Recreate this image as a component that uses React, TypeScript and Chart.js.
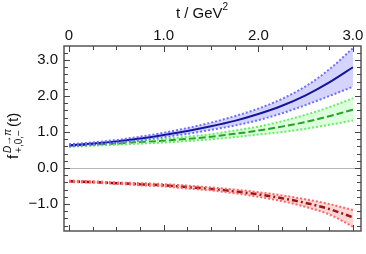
import React, { useEffect, useRef } from "react";
import { Chart, registerables } from "chart.js";

Chart.register(...registerables);

const tValues = [0, 0.25, 0.5, 0.75, 1.0, 1.25, 1.5, 1.75, 2.0, 2.25, 2.5, 2.75, 3.0];

const fPlus = [0.63, 0.68, 0.74, 0.82, 0.92, 1.03, 1.16, 1.31, 1.5, 1.73, 2.02, 2.38, 2.8];
const fPlusUpper = [0.66, 0.71, 0.78, 0.87, 0.98, 1.11, 1.26, 1.44, 1.65, 1.92, 2.27, 2.74, 3.33];
const fPlusLower = [0.6, 0.65, 0.7, 0.77, 0.86, 0.95, 1.06, 1.18, 1.33, 1.52, 1.75, 2.0, 2.26];

const fZero = [0.62, 0.65, 0.68, 0.72, 0.76, 0.81, 0.87, 0.95, 1.04, 1.15, 1.28, 1.44, 1.62];
const fZeroUpper = [0.65, 0.68, 0.71, 0.76, 0.81, 0.87, 0.94, 1.04, 1.15, 1.3, 1.48, 1.69, 1.94];
const fZeroLower = [0.59, 0.62, 0.65, 0.68, 0.71, 0.75, 0.8, 0.86, 0.93, 1.0, 1.09, 1.2, 1.32];

const fMinus = [-0.37, -0.39, -0.42, -0.45, -0.48, -0.53, -0.58, -0.65, -0.73, -0.84, -0.97, -1.14, -1.37];
const fMinusUpper = [-0.35, -0.37, -0.4, -0.42, -0.45, -0.49, -0.54, -0.6, -0.67, -0.76, -0.87, -1.0, -1.17];
const fMinusLower = [-0.39, -0.41, -0.44, -0.48, -0.51, -0.57, -0.62, -0.7, -0.8, -0.92, -1.08, -1.29, -1.63];

const xTickValues = [0, 1, 2, 3];
const xTickLabels = ["0", "1.0", "2.0", "3.0"];
const yTickValues = [-1, 0, 1, 2, 3];
const yTickLabels = ["\u22121.0", "0.0", "1.0", "2.0", "3.0"];

const FONT = "'Liberation Sans', Arial, sans-serif";

function pts(vals: number[]) {
  return tValues.map((t, i) => ({ x: t, y: vals[i] }));
}

const framePlugin = {
  id: "frame",
  beforeDatasetsDraw(chart: any) {
    const { ctx, chartArea, scales } = chart;
    const y0 = scales.y.getPixelForValue(0);
    ctx.save();
    ctx.strokeStyle = "#b8b8b8";
    ctx.lineWidth = 1;
    ctx.beginPath();
    ctx.moveTo(chartArea.left, Math.round(y0) + 0.5);
    ctx.lineTo(chartArea.right, Math.round(y0) + 0.5);
    ctx.stroke();
    ctx.restore();
  },
  afterDraw(chart: any) {
    const { ctx, chartArea, scales } = chart;
    const { left, right, top, bottom } = chartArea;
    ctx.save();
    ctx.strokeStyle = "#555";
    ctx.lineWidth = 1.5;
    ctx.strokeRect(left, top, right - left, bottom - top);
    ctx.lineWidth = 1;
    ctx.strokeStyle = "#444";
    for (let v = 0; v <= 3.0001; v += 0.25) {
      const px = Math.round(scales.x.getPixelForValue(v)) + 0.5;
      const major = Math.abs(v - Math.round(v)) < 1e-6;
      const len = major ? 6 : 4;
      ctx.beginPath();
      ctx.moveTo(px, top);
      ctx.lineTo(px, top + len);
      ctx.moveTo(px, bottom);
      ctx.lineTo(px, bottom - len);
      ctx.stroke();
    }
    for (let i = -8; i <= 16; i++) {
      const v = i * 0.2;
      const py = Math.round(scales.y.getPixelForValue(v)) + 0.5;
      if (py < top || py > bottom) continue;
      const major = i % 5 === 0;
      const len = major ? 6 : 4;
      ctx.beginPath();
      ctx.moveTo(left, py);
      ctx.lineTo(left + len, py);
      ctx.moveTo(right, py);
      ctx.lineTo(right - len, py);
      ctx.stroke();
    }
    ctx.fillStyle = "#111";
    ctx.font = `15px ${FONT}`;
    ctx.textBaseline = "alphabetic";
    const main = "t / GeV";
    const w1 = ctx.measureText(main).width;
    ctx.font = `10px ${FONT}`;
    const w2 = ctx.measureText("2").width;
    const startX = 202 - (w1 + w2) / 2;
    ctx.font = `15px ${FONT}`;
    ctx.fillText(main, startX, 18);
    ctx.font = `10px ${FONT}`;
    ctx.fillText("2", startX + w1, 10);
    ctx.translate(18, 136);
    ctx.rotate(-Math.PI / 2);
    ctx.font = `15px ${FONT}`;
    const fW = ctx.measureText("f").width;
    ctx.font = `italic 10px ${FONT}`;
    const supW = ctx.measureText("D\u2192\u03c0").width;
    ctx.font = `10px ${FONT}`;
    const subW = ctx.measureText("+,0,\u2212").width;
    ctx.font = `15px ${FONT}`;
    const tW = ctx.measureText("(t)").width;
    const total = fW + 2 + Math.max(supW, subW) + 2 + tW;
    let x = -total / 2;
    ctx.fillText("f", x, 0);
    x += fW + 2;
    ctx.font = `italic 10px ${FONT}`;
    ctx.fillText("D\u2192\u03c0", x, -7);
    ctx.font = `10px ${FONT}`;
    ctx.fillText("+,0,\u2212", x, 4);
    x += Math.max(supW, subW) + 2;
    ctx.font = `15px ${FONT}`;
    ctx.fillText("(t)", x, 0);
    ctx.restore();
  },
};

export default function App() {
  const ref = useRef<HTMLCanvasElement | null>(null);
  useEffect(() => {
    document.body.style.margin = "0";
    const canvas = ref.current!;
    const line = (data: number[], color: string, width: number, dash: number[], fill: any, bg: string) => ({
      data: pts(data),
      borderColor: color,
      borderWidth: width,
      borderDash: dash,
      backgroundColor: bg,
      fill,
      pointRadius: 0,
      cubicInterpolationMode: "monotone" as const,
    });
    const chart = new Chart(canvas, {
      type: "line",
      data: {
        datasets: [
          line(fPlusLower, "#6f6fff", 2, [2, 2], false, "transparent"),
          line(fPlusUpper, "#6f6fff", 2, [2, 2], "-1", "rgba(60,60,255,0.22)"),
          line(fPlus, "#0a0a80", 2, [], false, "transparent"),
          line(fZeroLower, "#66ee66", 2, [2, 2], false, "transparent"),
          line(fZeroUpper, "#66ee66", 2, [2, 2], "-1", "rgba(60,255,60,0.18)"),
          line(fZero, "#1f8f1f", 2, [7, 3], false, "transparent"),
          line(fMinusLower, "#ff6666", 2, [2, 2], false, "transparent"),
          line(fMinusUpper, "#ff6666", 2, [2, 2], "-1", "rgba(255,90,90,0.25)"),
          line(fMinus, "#7a0000", 2.5, [6, 3, 2, 3], false, "transparent"),
        ],
      },
      options: {
        animation: false,
        responsive: false,
        layout: { padding: { left: 0, right: 5, top: 0, bottom: 23 } },
        plugins: { legend: { display: false }, tooltip: { enabled: false } },
        scales: {
          x: {
            type: "linear",
            position: "top",
            min: -0.053,
            max: 3.085,
            grid: { display: false, drawTicks: false, tickLength: 0 },
            border: { display: false },
            afterBuildTicks: (s: any) => {
              s.ticks = xTickValues.map((v) => ({ value: v }));
            },
            afterFit: (s: any) => {
              s.height = 46;
            },
            ticks: {
              padding: 1,
              color: "#111",
              font: { family: FONT, size: 15 },
              maxRotation: 0,
              callback: (v: any) => {
                const i = xTickValues.indexOf(Number(v));
                return i >= 0 ? xTickLabels[i] : "";
              },
            },
          },
          y: {
            type: "linear",
            min: -1.75,
            max: 3.39,
            grid: { display: false, drawTicks: false, tickLength: 0 },
            border: { display: false },
            afterBuildTicks: (s: any) => {
              s.ticks = yTickValues.map((v) => ({ value: v }));
            },
            afterFit: (s: any) => {
              s.width = 64;
            },
            ticks: {
              padding: 6,
              color: "#111",
              font: { family: FONT, size: 15 },
              callback: (v: any) => {
                const i = yTickValues.indexOf(Number(v));
                return i >= 0 ? yTickLabels[i] : "";
              },
            },
          },
        },
      },
      plugins: [framePlugin],
    });
    return () => chart.destroy();
  }, []);
  return <canvas ref={ref} width={366} height={254} style={{ display: "block" }} />;
}
